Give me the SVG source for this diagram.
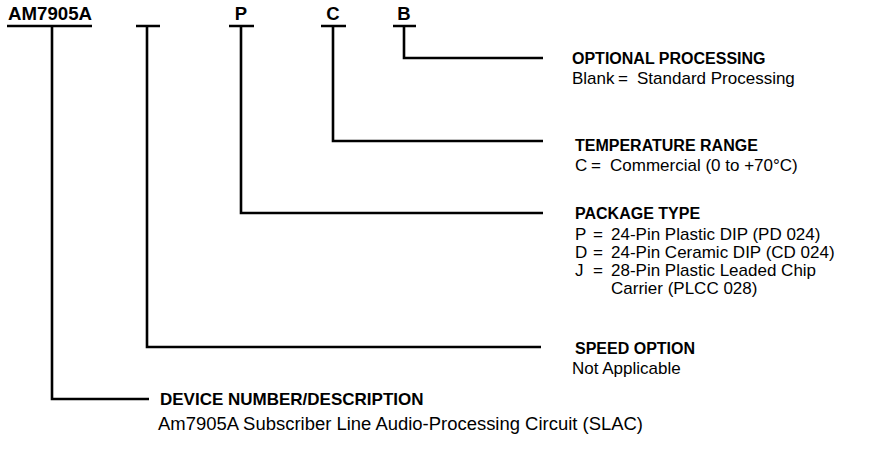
<svg xmlns="http://www.w3.org/2000/svg" width="883" height="458" viewBox="0 0 883 458">
<style>
text{font-family:"Liberation Sans",Arial,Helvetica,sans-serif;fill:#000}
.h{font-weight:bold;font-size:16px}
.k{font-weight:bold;font-size:18.5px}
.t{font-size:17px}
.c{stroke:#000;stroke-width:2.6;fill:none}
</style>
<rect width="883" height="458" fill="#fff"/>
<g id="code">
<text class="k" x="8" y="20" textLength="84" lengthAdjust="spacingAndGlyphs">AM7905A</text>
<text class="k" x="241" y="20" text-anchor="middle">P</text>
<text class="k" x="333" y="20" text-anchor="middle">C</text>
<text class="k" x="404" y="20" text-anchor="middle">B</text>
</g>
<g id="connectors">
<path class="c" d="M7,26H92M136,26H160M229,26H254M321,26H346M393,26H416"/>
<path class="c" d="M52,26V399H149"/>
<path class="c" d="M147,26V347H541"/>
<path class="c" d="M241,26V213H543"/>
<path class="c" d="M333,26V141H543"/>
<path class="c" d="M404,26V58H543"/>
</g>
<g id="optional">
<text class="h" x="572" y="64">OPTIONAL PROCESSING</text>
<text class="t" y="84"><tspan x="572">Blank</tspan><tspan x="618">=</tspan><tspan x="637">Standard Processing</tspan></text>
</g>
<g id="temperature">
<text class="h" x="575" y="151">TEMPERATURE RANGE</text>
<text class="t" y="171"><tspan x="575">C</tspan><tspan x="591">=</tspan><tspan x="610">Commercial (0 to +70°C)</tspan></text>
</g>
<g id="package">
<text class="h" x="575" y="219">PACKAGE TYPE</text>
<text class="t" y="240"><tspan x="575">P</tspan><tspan x="593">=</tspan><tspan x="611">24-Pin Plastic DIP (PD 024)</tspan></text>
<text class="t" y="258"><tspan x="575">D</tspan><tspan x="593">=</tspan><tspan x="611">24-Pin Ceramic DIP (CD 024)</tspan></text>
<text class="t" y="276"><tspan x="575">J</tspan><tspan x="593">=</tspan><tspan x="611">28-Pin Plastic Leaded Chip</tspan></text>
<text class="t" x="611" y="294">Carrier (PLCC 028)</text>
</g>
<g id="speed">
<text class="h" x="575" y="354">SPEED OPTION</text>
<text class="t" x="572" y="374">Not Applicable</text>
</g>
<g id="device">
<text class="h" x="160" y="405" style="font-size:17px">DEVICE NUMBER/DESCRIPTION</text>
<text class="t" x="158" y="430" style="font-size:18px" textLength="485" lengthAdjust="spacingAndGlyphs">Am7905A Subscriber Line Audio-Processing Circuit (SLAC)</text>
</g>
</svg>
